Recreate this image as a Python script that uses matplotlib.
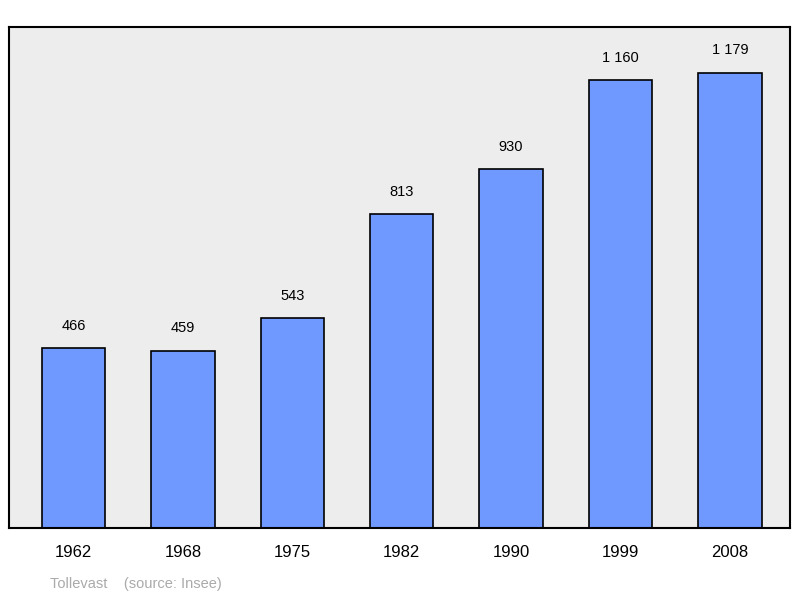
import matplotlib
matplotlib.use("Agg")
import matplotlib.pyplot as plt

years = ["1962", "1968", "1975", "1982", "1990", "1999", "2008"]
population = [466, 459, 543, 813, 930, 1160, 1179]
value_labels = ["466", "459", "543", "813", "930", "1 160", "1 179"]

plt.rcParams['font.family'] = ['Liberation Sans', 'DejaVu Sans']

fig = plt.figure(figsize=(8, 5.98), dpi=100)
ax = fig.add_axes([9/800, 70/598, 781/800, 501/598])
ax.set_facecolor('#ededed')

x = range(len(years))
ax.bar(x, population, width=0.58, color='#6f99ff', edgecolor='black', linewidth=1.2, zorder=2)
for i, (v, lab) in enumerate(zip(population, value_labels)):
    ax.text(i, v + 40, lab, ha='center', va='bottom', fontsize=10.5)

ax.set_xlim(-0.59, 6.55)
ax.set_ylim(0, 1298)
ax.set_yticks([])
ax.set_xticks(list(x))
ax.set_xticklabels(years, fontsize=12)
ax.tick_params(axis='x', length=0, pad=12)
for s in ax.spines.values():
    s.set_linewidth(1.5)

fig.text(50/800, 1 - 584/598, "Tollevast    (source: Insee)", color='#aaaaaa',
         fontsize=10.5, va='center')

fig.savefig("out.png", dpi=100)
